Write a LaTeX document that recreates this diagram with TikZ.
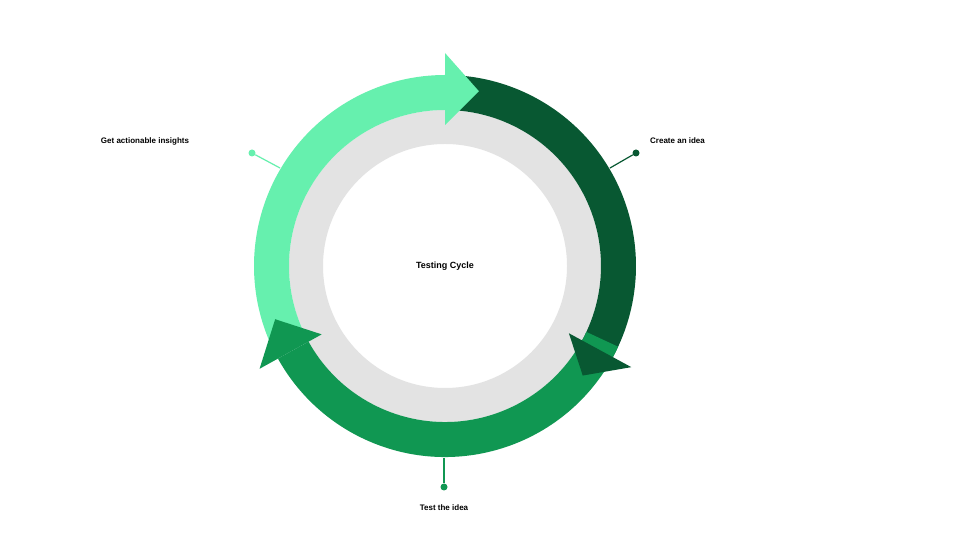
\documentclass[tikz,border=0pt]{standalone}
\usepackage{fontspec}
\setmainfont{Liberation Sans}
\begin{document}
\begin{tikzpicture}[x=1pt,y=1pt,
  lbl/.style={font=\bfseries\fontsize{8}{9}\selectfont, inner sep=0pt},
  dot/.style={circle, inner sep=0pt, minimum size=7pt}]
\definecolor{gLight}{HTML}{66F0AE}
\definecolor{gDark}{HTML}{085832}
\definecolor{gMid}{HTML}{109752}
\definecolor{gGray}{HTML}{E3E3E3}
\useasboundingbox[fill=white] (0,0) rectangle (960,540);
\coordinate (C) at (445,274);
\def\Ro{191}\def\Ri{156}
% gray ring
\fill[gGray, even odd rule] (C) circle[radius=\Ri] (C) circle[radius=122];
% bodies
\fill[gLight] ([shift={(C)}]205:\Ro) arc[start angle=205,end angle=90,radius=\Ro] -- ([shift={(C)}]90:\Ri) arc[start angle=90,end angle=205,radius=\Ri] -- cycle;
\fill[gDark] ([shift={(C)}]86:\Ro) arc[start angle=86,end angle=-28.5,radius=\Ro] -- ([shift={(C)}]-28.5:\Ri) arc[start angle=-28.5,end angle=86,radius=\Ri] -- cycle;
\fill[gMid] ([shift={(C)}]-25:\Ro) arc[start angle=-25,end angle=-151,radius=\Ro] -- ([shift={(C)}]-151:\Ri) arc[start angle=-151,end angle=-25,radius=\Ri] -- cycle;
% heads
\fill[gDark] ([shift={(C)}]-28.5:212) -- ([shift={(C)}]-38.5:176) -- ([shift={(C)}]-28.5:141) -- cycle;
\fill[gMid] ([shift={(C)}]-151:212) -- ([shift={(C)}]-162.6:178) -- ([shift={(C)}]-151:141) -- cycle;
\fill[gLight] ([shift={(C)}]90:213) -- ([shift={(C)}]79:178) -- ([shift={(C)}]90:141) -- cycle;
% center label
\node[lbl, font=\bfseries\fontsize{9}{10}\selectfont] (center) at (C) {Testing Cycle};
% connectors
\coordinate (e1) at (610,372);
\node[dot, fill=gDark] (d1) at (636,387) {};
\draw[gDark, line width=1.2pt] (e1) -- (d1);
\node[lbl, anchor=west] (t1) at (650,399) {Create an idea};
\coordinate (e2) at (280,372);
\node[dot, fill=gLight] (d2) at (252,387) {};
\draw[gLight, line width=1.2pt] (e2) -- (d2);
\node[lbl] (t2) at (145,399) {Get actionable insights};
\coordinate (e3) at (444,82);
\node[dot, fill=gMid] (d3) at (444,53) {};
\draw[gMid, line width=1.2pt] (e3) -- (d3);
\node[lbl] (t3) at (444,32) {Test the idea};
\end{tikzpicture}
\end{document}
